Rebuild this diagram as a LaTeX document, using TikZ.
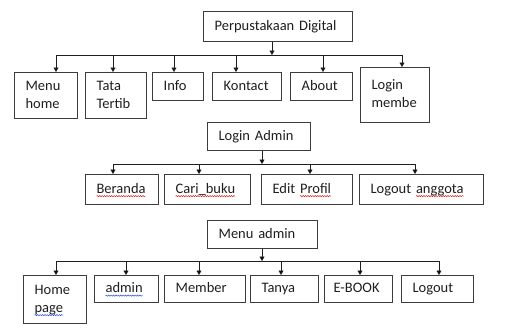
\documentclass[tikz,border=0pt]{standalone}
\usepackage{fontspec}
\setmainfont{Carlito}
\usetikzlibrary{arrows.meta,decorations.pathmorphing}
\definecolor{MapInk}{HTML}{1E1E1E}
\definecolor{MapFrame}{HTML}{3C3C3C}
\definecolor{SpellRed}{HTML}{E02020}
\definecolor{SpellBlue}{HTML}{3050E0}
\newsavebox\wavebox
\newlength\wavelen
% word with a spell-check wave under it
\newcommand\spellwave[2]{\sbox\wavebox{#2}\setlength\wavelen{\wd\wavebox}%
  \usebox\wavebox\tikz[overlay, x=1pt, y=1pt, baseline=0pt]
    \draw[draw=#1, line width=0.5pt, decorate, decoration={snake, amplitude=0.6pt, segment length=2.4pt}] (-\wavelen,-3pt) -- (0,-3pt);}
\newcommand\boxstrut{\rule[-4pt]{0pt}{15pt}}
\tikzset{
  every node/.style={font=\fontsize{14.5}{18}\selectfont, text=MapInk},
  menubox/.style={draw=MapFrame, line width=1.2pt, anchor=north west, inner xsep=11pt, inner ysep=0pt,
    execute at begin node=\noindent\boxstrut, execute at end node=\boxstrut},
  link/.style={draw=MapInk, line width=0.9pt},
  drop/.style={-{Triangle[length=4.5pt,width=5pt]}, draw=MapInk, line width=0.9pt},
}
\begin{document}
\begin{tikzpicture}[x=1pt,y=-1pt]
  \useasboundingbox (0,0) rectangle (532,327);
  % First level: main menu
  \node[menubox, text width=127pt, minimum height=30pt] (digital) at (203,11) {Perpustakaan Digital};
  \node[menubox, text width=41pt, minimum height=46pt] (menuhome) at (14,72) {Menu\\home};
  \node[menubox, text width=39pt, minimum height=46pt] (tatatertib) at (85,72) {Tata\\Tertib};
  \node[menubox, text width=29pt, minimum height=28pt] (info) at (152,72) {Info};
  \node[menubox, text width=47pt, minimum height=28pt] (kontact) at (212,72) {Kontact};
  \node[menubox, text width=40pt, minimum height=28pt] (about) at (290,72) {About};
  \node[menubox, text width=47pt, minimum height=55pt] (loginmember) at (360,67) {Login\\membe};
  \coordinate (busA) at (272,55);
  \draw[drop] (digital.south -| busA) -- (busA);
  \draw[link] (56,55) -- (402,55);
  \foreach \x/\n in {56/menuhome, 113/tatatertib, 174/info, 236/kontact, 323/about, 402/loginmember}
    \draw[drop] (\x,55) -- (\x,55 |- \n.north);
  % Second level: admin login
  \node[menubox, text width=81pt, minimum height=28pt] (loginadmin) at (207,122) {Login Admin};
  \node[menubox, text width=51pt, minimum height=30pt] (beranda) at (85,174) {\spellwave{SpellRed}{Beranda}};
  \node[menubox, text width=64pt, minimum height=30pt] (caribuku) at (164,174) {\spellwave{SpellRed}{Cari\_buku}};
  \node[menubox, text width=69pt, minimum height=30pt] (editprofil) at (261,174) {Edit \spellwave{SpellRed}{Profil}};
  \node[menubox, text width=102pt, minimum height=30pt] (logoutanggota) at (359,174) {Logout \spellwave{SpellRed}{anggota}};
  \coordinate (busB) at (262,164);
  \draw[drop] (loginadmin.south -| busB) -- (busB);
  \draw[link] (113,164) -- (415,164);
  \foreach \x/\n in {113/beranda, 199/caribuku, 310/editprofil, 415/logoutanggota}
    \draw[drop] (\x,164) -- (\x,164 |- \n.north);
  % Third level: admin menu
  \node[menubox, text width=88pt, minimum height=28pt] (menuadmin) at (207,220) {Menu admin};
  \node[menubox, text width=41pt, minimum height=48pt] (homepage) at (23,275) {Home\\\spellwave{SpellBlue}{page}};
  \node[menubox, text width=42pt, minimum height=27pt] (admin) at (94,275) {\spellwave{SpellBlue}{admin}};
  \node[menubox, text width=59pt, minimum height=27pt] (member) at (164,275) {Member};
  \node[menubox, text width=46pt, minimum height=27pt] (tanya) at (250,275) {Tanya};
  \node[menubox, text width=50pt, minimum height=27pt, inner xsep=9pt] (ebook) at (324,275) {E-BOOK};
  \node[menubox, text width=50pt, minimum height=27pt] (logout) at (401,275) {Logout};
  \coordinate (busC) at (262,261);
  \draw[drop] (menuadmin.south -| busC) -- (busC);
  \draw[link] (56,261) -- (439,261);
  \foreach \x/\n in {56/homepage, 126/admin, 199/member, 281/tanya, 360/ebook, 439/logout}
    \draw[drop] (\x,261) -- (\x,261 |- \n.north);
\end{tikzpicture}
\end{document}
